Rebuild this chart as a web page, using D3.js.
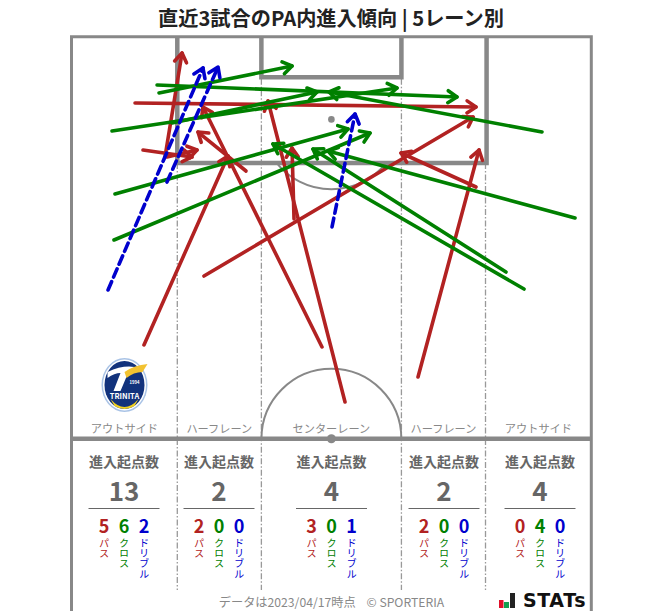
<!DOCTYPE html>
<html lang="ja"><head><meta charset="utf-8">
<script src="https://cdnjs.cloudflare.com/ajax/libs/d3/7.8.5/d3.min.js"></script>
<style>html,body{margin:0;padding:0;background:#fff}svg{display:block}text{font-family:"Noto Sans CJK JP","Noto Sans",sans-serif}</style>
</head><body><div id="c"></div>
<script>
// pitch positions in metres: [x from left touchline, y from goal line, x end, y end]
const passes = [
 [9.48,40.26,20.47,15.58],[22.83,17.54,16.55,12.45],[9.35,14.80,15.76,15.71],[12.49,15.71,16.42,14.80],
 [12.23,15.71,14.46,2.13],[8.31,8.66,52.92,9.18],[32.77,40.52,17.20,9.18],[35.78,47.71,25.71,8.40],
 [29.11,23.81,28.85,14.54],[17.33,31.25,52.53,10.49],[45.33,44.44,53.31,14.80],[52.92,19.63,43.11,15.19]];
const crosses = [
 [5.30,12.32,42.58,6.70],[13.15,11.27,32.12,7.22],[11.19,6.31,50.43,7.88],[11.45,7.35,28.85,3.83],
 [5.69,20.54,36.17,12.05],[5.56,26.55,39.05,12.58],[61.55,12.45,33.69,7.22],[65.87,23.68,33.56,14.93],
 [59.20,32.95,26.36,14.01],[56.84,30.73,31.59,14.67]];
const dribbles = [[4.78,33.08,17.20,4.09],[12.49,18.98,19.17,3.96],[34.08,24.85,37.09,10.10]];

const laneNames = ["アウトサイド","ハーフレーン","センターレーン","ハーフレーン","アウトサイド"];
const laneEdges = [0,13.84,24.84,43.16,54.16,68];
const laneTotals = [13,2,4,2,4];
const lanePass = [5,2,3,2,0];
const laneCross = [6,0,0,0,4];
const laneDribble = [2,0,1,0,0];
const typeNames = ["パス","クロス","ドリブル"];
const typeColors = ["#b22222","#008000","#0000cd"];
const titleText = "直近3試合のPA内進入傾向 | 5レーン別";
const footerText = "データは2023/04/17時点\u00A0\u00A0\u00A0\u00A0© SPORTERIA";

const W=663,H=611,LINE="#888";
const x=d3.scaleLinear().domain([0,68]).range([71.5,591.3]);
const y=d3.scaleLinear().domain([0,52.5]).range([36.7,438.7]);
const svg=d3.select("#c").append("svg").attr("width",W).attr("height",H).attr("viewBox",[0,0,W,H]);

svg.append("text").attr("x",331).attr("y",26).attr("text-anchor","middle")
  .attr("font-size",20.2).attr("font-weight",700).attr("fill","#222").text(titleText);

// pitch
const pitch=svg.append("g").attr("fill","none").attr("stroke",LINE);
const laneCenters=laneEdges.slice(0,5).map((e,i)=>(e+laneEdges[i+1])/2);
[1,2,3,4].forEach(i=>{
  const top=(i===1||i===4)?16.5:5.5;
  pitch.append("line").attr("x1",x(laneEdges[i])).attr("x2",x(laneEdges[i]))
    .attr("y1",y(top)).attr("y2",590).attr("stroke","#999").attr("stroke-width",1.3)
    .attr("stroke-dasharray","6 2 1.5 2");
});
pitch.append("path").attr("stroke-width",3)
  .attr("d",`M${x(0)},${H}V${y(0)}H${x(68)}V${H}`);
pitch.append("path").attr("stroke-width",4.5)
  .attr("d",`M${x(13.84)},${y(0)}V${y(16.5)}H${x(54.3)}V${y(0)}`);
pitch.append("path").attr("stroke-width",4.5)
  .attr("d",`M${x(24.84)},${y(0)}V${y(5.3)}H${x(43.16)}V${y(0)}`);
pitch.append("line").attr("stroke-width",4.5).attr("x1",x(0)).attr("x2",x(68)).attr("y1",y(52.5)).attr("y2",y(52.5));
const r=x(9.15)-x(0);
const cx=x(34);
pitch.append("path").attr("stroke-width",2)
  .attr("d",`M${cx-r},${y(52.5)}A${r},${r} 0 0 1 ${cx+r},${y(52.5)}`);
// penalty arc
const spotY=y(10.8), dy=y(16.5)-spotY, dx=Math.sqrt(r*r-dy*dy);
pitch.append("path").attr("stroke-width",2)
  .attr("d",`M${cx-dx},${y(16.5)}A${r},${r} 0 0 0 ${cx+dx},${y(16.5)}`);
svg.append("circle").attr("cx",cx).attr("cy",spotY).attr("r",3.3).attr("fill",LINE);
svg.append("circle").attr("cx",cx).attr("cy",y(52.5)).attr("r",4.5).attr("fill",LINE);

// lane names
svg.append("g").selectAll("text").data(laneNames).join("text")
  .attr("x",(d,i)=>x(laneCenters[i])).attr("y",432.5).attr("text-anchor","middle")
  .attr("font-size",11.2).attr("fill","#888").text(d=>d);

// arrow markers
const defs=svg.append("defs");
typeColors.forEach((c,i)=>{
  defs.append("marker").attr("id","m"+i).attr("markerUnits","userSpaceOnUse")
    .attr("viewBox","-16 -10 20 20").attr("markerWidth",20).attr("markerHeight",20)
    .attr("refX",0).attr("refY",0).attr("orient","auto")
    .append("path").attr("d","M-9,-6L0,0L-9,6").attr("fill","none").attr("stroke",c)
    .attr("stroke-width",3.6).attr("stroke-linecap","round").attr("stroke-linejoin","round");
});
function drawArrows(data,i,dash){
  svg.append("g").selectAll("line").data(data).join("line")
    .attr("x1",d=>x(d[0])).attr("y1",d=>y(d[1])).attr("x2",d=>x(d[2])).attr("y2",d=>y(d[3]))
    .attr("stroke",typeColors[i]).attr("stroke-width",3.6).attr("stroke-linecap","round")
    .attr("stroke-dasharray",dash||null).attr("marker-end",`url(#m${i})`);
}
drawArrows(passes,0);
drawArrows(crosses,1);
drawArrows(dribbles,2,"9 5");

// stats panel
const panel=svg.append("g").selectAll("g").data(laneTotals).join("g")
  .attr("transform",(d,i)=>`translate(${[124,219,331.5,444,540][i]},0)`);
panel.append("text").attr("y",467).attr("text-anchor","middle").attr("font-size",14)
  .attr("font-weight",700).attr("fill","#666").text("進入起点数");
panel.append("text").attr("y",501).attr("text-anchor","middle").attr("font-size",26)
  .attr("font-weight",700).attr("fill","#666").text(d=>d);
panel.append("line").attr("x1",-35.5).attr("x2",35.5).attr("y1",508.5).attr("y2",508.5)
  .attr("stroke","#666").attr("stroke-width",1);
[lanePass,laneCross,laneDribble].forEach((arr,k)=>{
  const ox=(k-1)*20;
  panel.append("text").attr("x",ox).attr("y",533).attr("text-anchor","middle")
    .attr("font-size",18).attr("font-weight",700).attr("fill",typeColors[k])
    .text((d,i)=>arr[i]);
  panel.append("text").attr("transform",`translate(${ox},538)`)
    .style("writing-mode","vertical-rl").attr("font-size",10.2).attr("fill",typeColors[k])
    .attr("dominant-baseline","central").text(typeNames[k]);
});

svg.append("text").attr("x",331.5).attr("y",607).attr("text-anchor","middle")
  .attr("font-size",12.2).attr("fill","#888").text(footerText);

// team badge
const badge=svg.append("g").attr("transform","translate(124.5,385)");
badge.append("ellipse").attr("rx",23).attr("ry",27).attr("fill","#a9c3e6");
badge.append("ellipse").attr("rx",21.5).attr("ry",25.5).attr("fill","#fff");
badge.append("ellipse").attr("rx",20).attr("ry",24).attr("fill","#12327c");
badge.append("path").attr("d","M-14,14Q0,30 14,14L10,21Q0,27 -10,21Z").attr("fill","#f0d020");
badge.append("path").attr("d","M-17,-13Q-2,-20 10,-18L4,-13L-4,6L-11,6L-4,-12Q-10,-12 -17,-7Z").attr("fill","#fff");
badge.append("path").attr("d","M0,-13Q10,-20 23,-21L18,-13Q9,-13 2,-7Z").attr("fill","#f2c230");
badge.append("text").attr("y",14).attr("text-anchor","middle").attr("font-size",7.5).attr("font-weight",700)
  .attr("fill","#fff").text("TRINITA");
badge.append("text").attr("x",10).attr("y",-1).attr("text-anchor","middle").attr("font-size",4.2).attr("font-weight",700)
  .attr("fill","#fff").text("1994");

// data provider mark
const mark=svg.append("g").attr("transform","translate(499,608)");
mark.append("rect").attr("x",0).attr("y",-8).attr("width",4.5).attr("height",8).attr("fill","#e0102a");
mark.append("rect").attr("x",5).attr("y",-6).attr("width",5).attr("height",6).attr("fill","#12a050");
mark.append("rect").attr("x",11).attr("y",-15).attr("width",5).attr("height",15).attr("fill","#222");
mark.append("text").attr("x",24).attr("y",-1).attr("font-size",19).attr("font-weight",700)
  .attr("fill","#111").attr("letter-spacing",0.6).style("font-family","'DejaVu Sans',sans-serif").text("STATs");
</script></body></html>
